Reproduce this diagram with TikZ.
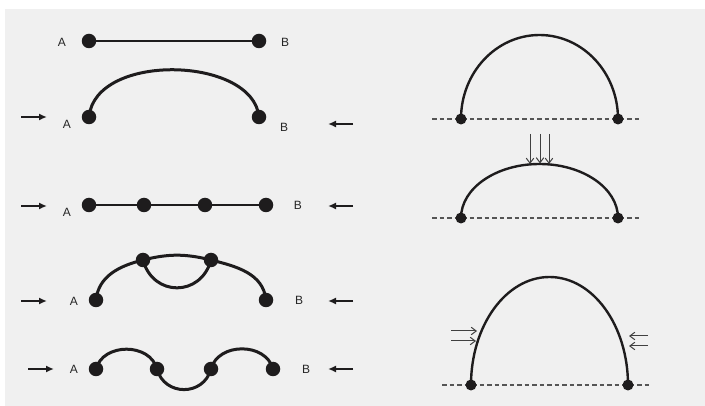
\documentclass[tikz,border=0pt]{standalone}
\usepackage{fontspec}
\setmainfont{Liberation Sans}
\usetikzlibrary{arrows.meta}
\pgfdeclarelayer{panel}
\pgfdeclarelayer{bg}
\pgfsetlayers{panel,bg,main}
\definecolor{ink}{HTML}{1E1C1D}
\definecolor{panelgray}{HTML}{F0F0F0}
\definecolor{dashgray}{HTML}{555555}
\begin{document}
\begin{tikzpicture}[x=1pt,y=1pt,
  dot/.style={circle,fill=ink,inner sep=0pt,minimum size=14.5pt},
  sdot/.style={circle,fill=ink,inner sep=0pt,minimum size=11pt},
  lbl/.style={font=\fontsize{12}{14}\selectfont,text=black!85,inner sep=0pt},
  thinline/.style={draw=ink,line width=1.4pt},
  thickline/.style={draw=ink,line width=3pt},
  arcline/.style={draw=ink,line width=2.4pt},
  push/.style={draw=ink,line width=1.9pt,-{Latex[length=8pt,width=7pt]}},
  force/.style={draw=black!75,line width=1pt,-{Straight Barb[length=5pt,width=7.5pt]}},
  groundline/.style={draw=dashgray,line width=1.1pt,dash pattern=on 4.5pt off 3pt}]
\useasboundingbox (0,0) rectangle (705,-406);
\begin{pgfonlayer}{panel}
\fill[panelgray] (5,-9) rectangle (705,-406);
\end{pgfonlayer}

% ---------- Row 1 ----------
\node[dot] (a1) at (89,-41) {};
\node[dot] (b1) at (259,-41) {};
\node[lbl] (la1) at (62,-42) {A};
\node[lbl] (lb1) at (285,-42) {B};

% ---------- Row 2 ----------
\node[dot] (a2) at (89,-117) {};
\node[dot] (b2) at (259,-117) {};
\node[lbl] (la2) at (67,-124) {A};
\node[lbl] (lb2) at (284,-127) {B};
\coordinate (p2ls) at (21,-117); \coordinate (p2le) at (47,-117);
\coordinate (p2rs) at (353,-124); \coordinate (p2re) at (328,-124);
\draw[push] (p2ls) -- (p2le);
\draw[push] (p2rs) -- (p2re);

% ---------- Row 3 ----------
\node[dot] (a3) at (89,-205) {};
\node[dot] (c3) at (144,-205) {};
\node[dot] (d3) at (205,-205) {};
\node[dot] (b3) at (266,-205) {};
\node[lbl] (la3) at (67,-212) {A};
\node[lbl] (lb3) at (298,-205) {B};
\coordinate (p3ls) at (21,-206); \coordinate (p3le) at (47,-206);
\coordinate (p3rs) at (353,-206); \coordinate (p3re) at (328,-206);
\draw[push] (p3ls) -- (p3le);
\draw[push] (p3rs) -- (p3re);

% ---------- Row 4 ----------
\node[dot] (a4) at (96,-300) {};
\node[dot] (c4) at (143,-260) {};
\node[dot] (d4) at (211,-260) {};
\node[dot] (b4) at (266,-300) {};
\node[lbl] (la4) at (74,-301) {A};
\node[lbl] (lb4) at (299,-300) {B};
\coordinate (p4ls) at (21,-301); \coordinate (p4le) at (47,-301);
\coordinate (p4rs) at (353,-301); \coordinate (p4re) at (328,-301);
\draw[push] (p4ls) -- (p4le);
\draw[push] (p4rs) -- (p4re);

% ---------- Row 5 ----------
\node[dot] (a5) at (96,-369) {};
\node[dot] (c5) at (157,-369) {};
\node[dot] (d5) at (211,-369) {};
\node[dot] (b5) at (273,-369) {};
\node[lbl] (la5) at (74,-369) {A};
\node[lbl] (lb5) at (306,-369) {B};
\coordinate (p5ls) at (28,-369); \coordinate (p5le) at (54,-369);
\coordinate (p5rs) at (353,-369); \coordinate (p5re) at (328,-369);
\draw[push] (p5ls) -- (p5le);
\draw[push] (p5rs) -- (p5re);

% ---------- Right: arch 1 ----------
\coordinate (g1s) at (432,-119); \coordinate (g1e) at (642,-119);
\node[sdot] (r1a) at (461,-119) {};
\node[sdot] (r1b) at (618,-119) {};

% ---------- Right: arch 2 ----------
\coordinate (g2s) at (432,-218); \coordinate (g2e) at (642,-218);
\node[sdot] (r2a) at (461,-218) {};
\node[sdot] (r2b) at (618,-218) {};
\coordinate (v1s) at (530,-134); \coordinate (v1e) at (530,-164);
\coordinate (v2s) at (540,-134); \coordinate (v2e) at (540,-163.5);
\coordinate (v3s) at (549,-134); \coordinate (v3e) at (549,-164);
\draw[force] (v1s) -- (v1e);
\draw[force] (v2s) -- (v2e);
\draw[force] (v3s) -- (v3e);

% ---------- Right: arch 3 ----------
\coordinate (g3s) at (442,-385); \coordinate (g3e) at (652,-385);
\node[sdot] (r3a) at (471,-385) {};
\node[sdot] (r3b) at (628,-385) {};
\coordinate (h1s) at (451,-331); \coordinate (h1e) at (477,-331);
\coordinate (h2s) at (451,-341); \coordinate (h2e) at (476,-341);
\coordinate (h3s) at (648,-336); \coordinate (h3e) at (629,-336);
\coordinate (h4s) at (648,-346); \coordinate (h4e) at (629,-346);
\draw[force] (h1s) -- (h1e);
\draw[force] (h2s) -- (h2e);
\draw[force] (h3s) -- (h3e);
\draw[force] (h4s) -- (h4e);

% ---------- lines behind the dots ----------
\begin{pgfonlayer}{bg}
\draw[thinline] (a1.center) -- (b1.center);
\draw[thickline] (a2.center) .. controls (95,-52) and (253,-56) .. (b2.center);
\draw[thinline] (a3.center) -- (c3.center) -- (d3.center) -- (b3.center);
\draw[thickline] (a4.center) to[out=84,in=194] (c4.center);
\draw[thickline] (c4.center) to[out=14,in=166] (d4.center);
\draw[thickline] (d4.center) to[out=-14,in=96] (b4.center);
\draw[thickline] (c4.center) to[out=-75,in=-105,looseness=1.45] (d4.center);
\draw[thickline] (a5.center) to[out=75,in=105,looseness=1.15] (c5.center);
\draw[thickline] (c5.center) to[out=-75,in=-105,looseness=1.35] (d5.center);
\draw[thickline] (d5.center) to[out=75,in=105,looseness=1.15] (b5.center);
\draw[groundline] (g1s) -- (g1e);
\draw[groundline] (g2s) -- (g2e);
\draw[groundline] (g3s) -- (g3e);
\draw[arcline] (r1a.center) arc[start angle=180,end angle=0,x radius=78.5,y radius=84];
\draw[arcline] (r2a.center) arc[start angle=180,end angle=0,x radius=78.5,y radius=54];
\draw[arcline] (r3a.center) arc[start angle=180,end angle=0,x radius=78.5,y radius=108];
\end{pgfonlayer}
\end{tikzpicture}
\end{document}
